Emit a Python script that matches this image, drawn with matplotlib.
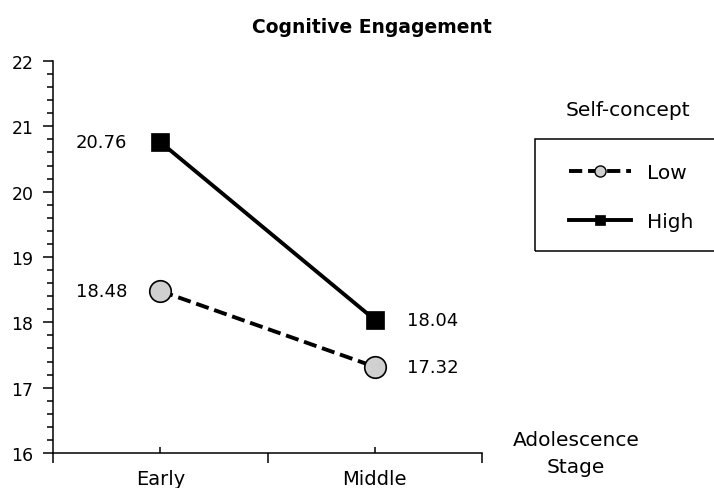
import matplotlib
matplotlib.use("Agg")
import matplotlib.pyplot as plt
from matplotlib.lines import Line2D
from matplotlib.patches import Rectangle
from matplotlib.ticker import MultipleLocator

plt.rcParams['font.family'] = ['DejaVu Sans']

title = "Cognitive Engagement"
stages = ["Early", "Middle"]
low_values = [18.48, 17.32]
high_values = [20.76, 18.04]
series_names = ["Low", "High"]
legend_title = "Self-concept"
x_title = "Adolescence\nStage"
y_ticks = [16, 17, 18, 19, 20, 21, 22]

W, H = 714, 489
fig = plt.figure(figsize=(W / 100, H / 100), dpi=100)
ax = fig.add_axes([53 / W, 1 - 454 / H, (482 - 53) / W, (454 - 62) / H])

xpos = [i + 0.5 for i in range(len(stages))]
lw = 2.8
ax.plot(xpos, low_values, color='black', lw=lw, dashes=(3.4, 1.5),
        marker='o', ms=15.5, mfc='#d0d0d0', mec='black', mew=1.2, zorder=3)
ax.plot(xpos, high_values, color='black', lw=lw, ls='-',
        marker='s', ms=13, mfc='black', mec='black', mew=0.5, zorder=4)

# value labels
ax.annotate(f"{high_values[0]:.2f}", (xpos[0], high_values[0]), xytext=(-33, 0),
            textcoords='offset pixels', ha='right', va='center', fontsize=13)
ax.annotate(f"{low_values[0]:.2f}", (xpos[0], low_values[0]), xytext=(-33, 0),
            textcoords='offset pixels', ha='right', va='center', fontsize=13)
ax.annotate(f"{high_values[1]:.2f}", (xpos[1], high_values[1]), xytext=(32, 0),
            textcoords='offset pixels', ha='left', va='center', fontsize=13)
ax.annotate(f"{low_values[1]:.2f}", (xpos[1], low_values[1]), xytext=(32, 0),
            textcoords='offset pixels', ha='left', va='center', fontsize=13)

ax.set_xlim(0, len(stages))
ax.set_ylim(y_ticks[0], y_ticks[-1])
ax.set_xticks(xpos)
ax.set_xticklabels(stages, fontsize=14)
ax.set_xticks(range(len(stages) + 1), minor=True)
ax.tick_params(axis='x', which='major', direction='in', length=4, width=1.1, pad=11.5)
ax.tick_params(axis='x', which='minor', direction='out', length=7, width=1.1)
ax.set_yticks(y_ticks)
ax.set_yticklabels([str(t) for t in y_ticks], fontsize=12.5)
ax.yaxis.set_minor_locator(MultipleLocator(0.2))
ax.tick_params(axis='y', which='major', direction='out', length=7.2, width=1.1, pad=7)
ax.tick_params(axis='y', which='minor', direction='out', length=4.3, width=1.1)
for s in ['top', 'right']:
    ax.spines[s].set_visible(False)
for s in ['left', 'bottom']:
    ax.spines[s].set_linewidth(1.1)
ax.spines['left'].set_bounds(y_ticks[0], y_ticks[-1])

fig.text(252 / W, 1 - 33 / H, title, ha='left', va='baseline',
         fontsize=13.5, fontweight='bold')
fig.text(576 / W, 1 - 454 / H, x_title, ha='center', va='center',
         fontsize=14.5, linespacing=1.5)

# legend
fig.patches.append(Rectangle((535 / W, 1 - 252 / H), (760 - 535) / W, (252 - 140) / H,
                             transform=fig.transFigure, fill=False, ec='black', lw=1.1,
                             clip_on=False))
fig.text(628 / W, 1 - 111 / H, legend_title, ha='center', va='center', fontsize=14.5)
handles = [
    Line2D([], [], color='black', lw=lw, dashes=(3.4, 1.5), marker='o', ms=8,
           mfc='#d0d0d0', mec='black', mew=1.0),
    Line2D([], [], color='black', lw=lw, ls='-', marker='s', ms=7.5,
           mfc='black', mec='black', mew=0.5),
]
fig.legend(handles, series_names, loc='upper left',
           bbox_to_anchor=(569 / W, 1 - 164 / H), frameon=False, fontsize=14.5,
           handlelength=3.1, handletextpad=0.75, labelspacing=1.5,
           borderpad=0, borderaxespad=0)

fig.savefig("out.png", dpi=100)
